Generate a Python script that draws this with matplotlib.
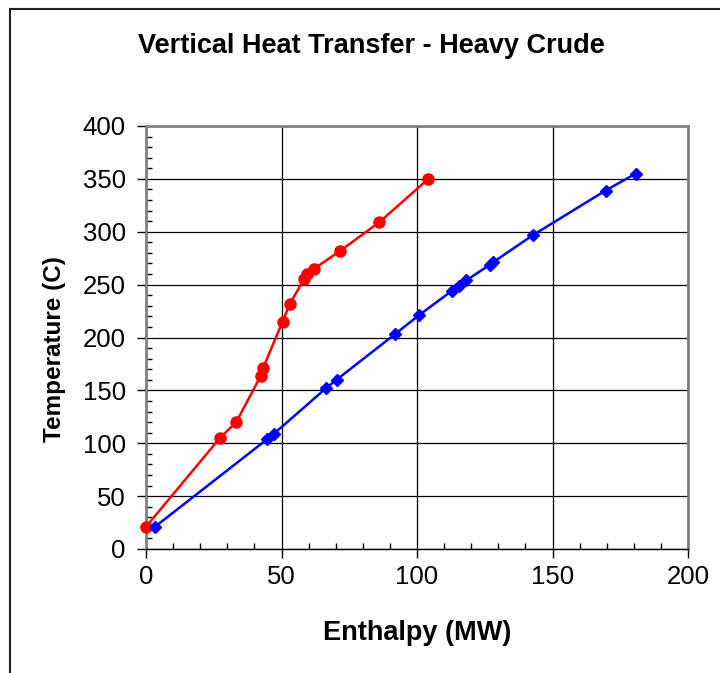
import matplotlib
matplotlib.use("Agg")
import matplotlib.pyplot as plt
from matplotlib.lines import Line2D
from matplotlib.ticker import MultipleLocator

plt.rcParams['font.family'] = ['Liberation Sans', 'DejaVu Sans']

# hot stream (red) and cold stream (blue): enthalpy in MW, temperature in C
hot_enthalpy = [0, 27.3, 33.3, 42.4, 43.2, 50.4, 53.1, 58.3, 59.3, 62.0, 71.7, 86.1, 104.2]
hot_temp = [21, 105, 120, 164, 171, 215, 232, 255, 260, 265, 282, 309, 350]

cold_enthalpy = [3.3, 44.8, 47.2, 66.4, 70.3, 91.8, 100.7, 112.8, 115.5, 118.2, 127.0, 128.0, 142.9, 169.6, 180.7]
cold_temp = [21, 104, 109, 152, 160, 203, 221, 244, 249, 254, 269, 271, 297, 339, 355]

title = 'Vertical Heat Transfer - Heavy Crude'
xlabel = 'Enthalpy (MW)'
ylabel = 'Temperature (C)'

W, H = 720, 673
fig = plt.figure(figsize=(W / 100, H / 100), dpi=100)

# plot area in pixel coordinates
left, right, top, bottom = 146, 688, 126, 549
ax = fig.add_axes([left / W, 1 - bottom / H, (right - left) / W, (bottom - top) / H])

ax.set_xlim(0, 200)
ax.set_ylim(0, 400)
ax.xaxis.set_major_locator(MultipleLocator(50))
ax.yaxis.set_major_locator(MultipleLocator(50))
ax.xaxis.set_minor_locator(MultipleLocator(10))
ax.yaxis.set_minor_locator(MultipleLocator(10))

ax.grid(True, which='major', color='black', linewidth=0.9)
ax.set_axisbelow(True)

ax.plot(hot_enthalpy, hot_temp, color='#ff0000', linewidth=1.8,
        marker='o', markersize=8, zorder=3, clip_on=False)
ax.plot(cold_enthalpy, cold_temp, color='#0000ff', linewidth=1.8,
        marker='D', markersize=6.5, zorder=3, clip_on=False)

for side in ['top', 'right', 'left']:
    ax.spines[side].set_color('#808080')
    ax.spines[side].set_linewidth(2)
ax.spines['bottom'].set_color('black')
ax.spines['bottom'].set_linewidth(1)

ax.tick_params(which='major', direction='out', length=6.5, width=1, color='black',
               labelsize=18.5)
ax.tick_params(which='minor', direction='in', length=4.5, width=1, color='black')
ax.tick_params(axis='x', which='major', pad=5)
ax.tick_params(axis='y', which='major', pad=8)

fig.text(371 / W, 1 - 46 / H, title, ha='center', va='center',
         fontsize=19.5, fontweight='bold')
fig.text(417 / W, 1 - 633 / H, xlabel, ha='center', va='center',
         fontsize=19.5, fontweight='bold')
fig.text(55 / W, 1 - 349 / H, ylabel, ha='center', va='center',
         fontsize=17.5, fontweight='bold', rotation=90)

# outer chart frame (left and top edges)
fig.add_artist(Line2D([10 / W, 10 / W], [0, 1 - 9 / H], color='#202020', linewidth=1.5))
fig.add_artist(Line2D([10 / W, 1], [1 - 9 / H, 1 - 9 / H], color='#202020', linewidth=1.5))

fig.savefig('out.png', dpi=100)
